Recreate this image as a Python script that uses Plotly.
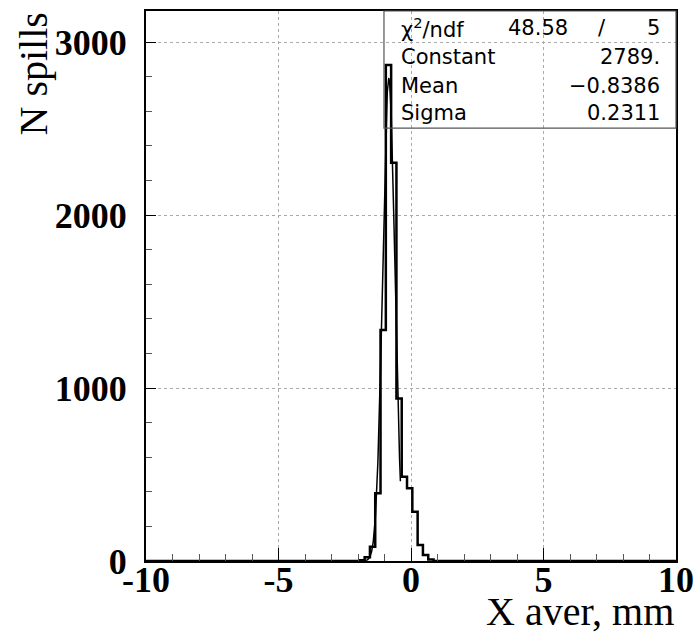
import plotly.graph_objects as go
import numpy as np

# ---- data ----
bin_edges = [-1.95, -1.75, -1.55, -1.35, -1.15, -0.95, -0.75, -0.55, -0.35,
             -0.15, 0.05, 0.25, 0.45, 0.65, 0.85]
counts = [5, 22, 83, 392, 1335, 2868, 2302, 940, 487, 420, 285, 92, 35, 8]

fit_constant = 2789.0
fit_mean = -0.8386
fit_sigma = 0.2311
fit_range = [-1.8, -0.4]

stat_names = ["Constant", "Mean", "Sigma"]
stat_values = ["2789.", "\u22120.8386", "0.2311"]
chi2_text = "48.58"
ndf_text = "5"

x_ticks = [-10, -5, 0, 5, 10]
x_tick_labels = ["-10", "-5", "0", "5", "10"]
y_ticks = [0, 1000, 2000, 3000]
y_tick_labels = ["0", "1000", "2000", "3000"]

x_title = "X aver, mm"
y_title = "N spills"

# ---- histogram outline ----
hx = [-10] + bin_edges + [10]
hy = [0] + counts + [0, 0]

# ---- gaussian fit curve (from the fit parameters, over the fit range) ----
gx = np.linspace(fit_range[0], fit_range[1], 300)
gy = fit_constant * np.exp(-0.5 * ((gx - fit_mean) / fit_sigma) ** 2)

fig = go.Figure()
fig.add_trace(go.Scatter(x=hx, y=hy, mode="lines", line_shape="hv",
                         line=dict(color="black", width=2.5),
                         hoverinfo="skip", showlegend=False))
fig.add_trace(go.Scatter(x=gx, y=gy, mode="lines",
                         line=dict(color="black", width=1.5),
                         hoverinfo="skip", showlegend=False))

tickfont = dict(family="Liberation Serif", size=36, color="black", weight="bold")

fig.update_xaxes(range=[-10, 10], tickmode="array", tickvals=x_ticks,
                 ticktext=x_tick_labels, ticks="inside", ticklen=13,
                 tickwidth=1, tickcolor="black",
                 minor=dict(dtick=1, ticks="inside", ticklen=7, tickcolor="#555",
                            showgrid=False),
                 showgrid=True, gridcolor="#aaaaaa", griddash="dot", gridwidth=1,
                 showline=True, linecolor="black", linewidth=2, mirror=True,
                 zeroline=False, tickfont=tickfont, ticklabelstandoff=-14,
                 automargin=False)
fig.update_yaxes(range=[0, 3180], tickmode="array", tickvals=y_ticks,
                 ticktext=y_tick_labels, ticks="inside", ticklen=10,
                 tickwidth=1, tickcolor="black",
                 minor=dict(dtick=200, ticks="inside", ticklen=6, tickcolor="#555",
                            showgrid=False),
                 showgrid=True, gridcolor="#aaaaaa", griddash="dot", gridwidth=1,
                 showline=True, linecolor="black", linewidth=2, mirror=True,
                 zeroline=False, tickfont=tickfont, ticklabelstandoff=10,
                 automargin=False)

# stats box
box_x0 = 0.449
box_y0 = 0.787
fig.add_shape(type="rect", xref="paper", yref="paper", x0=box_x0, x1=1.0,
              y0=box_y0, y1=1.0, line=dict(color="#555", width=1.2),
              fillcolor="rgba(0,0,0,0)", layer="above")

sfont = dict(family="DejaVu Sans", size=21, color="black")
row_y = [0.969, 0.916, 0.864, 0.8145]
lx = 0.4774
rx = 0.9736
fig.add_annotation(xref="paper", yref="paper", x=lx, y=row_y[0],
                   text="\u03c7<sup>2</sup>/ndf", showarrow=False,
                   xanchor="left", yanchor="middle", font=sfont)
fig.add_annotation(xref="paper", yref="paper", x=0.80, y=row_y[0],
                   text=chi2_text, showarrow=False,
                   xanchor="right", yanchor="middle", font=sfont)
fig.add_annotation(xref="paper", yref="paper", x=0.8604, y=row_y[0],
                   text="/", showarrow=False,
                   xanchor="center", yanchor="middle", font=sfont)
fig.add_annotation(xref="paper", yref="paper", x=rx, y=row_y[0],
                   text=ndf_text, showarrow=False,
                   xanchor="right", yanchor="middle", font=sfont)
for name, val, yy in zip(stat_names, stat_values, row_y[1:]):
    fig.add_annotation(xref="paper", yref="paper", x=lx, y=yy, text=name,
                       showarrow=False, xanchor="left", yanchor="middle",
                       font=sfont)
    fig.add_annotation(xref="paper", yref="paper", x=rx, y=yy, text=val,
                       showarrow=False, xanchor="right", yanchor="middle",
                       font=sfont)

# axis titles (ROOT style, right/top aligned)
tfont = dict(family="Liberation Serif", size=40, color="black")
fig.add_annotation(xref="paper", yref="paper", x=1.0, y=-0.0927, text=x_title,
                   showarrow=False, xanchor="right", yanchor="middle", font=tfont)
fig.add_annotation(xref="paper", yref="paper", x=-0.2132, y=1.0, text=y_title,
                   textangle=-90, showarrow=False, xanchor="center",
                   yanchor="top", font=tfont)

fig.update_layout(width=699, height=638,
                  margin=dict(l=146, r=23, t=11, b=77, autoexpand=False),
                  paper_bgcolor="white", plot_bgcolor="white",
                  showlegend=False)

fig.write_html("out.html", config={"displayModeBar": False},
               post_script="document.body.style.margin='0';"
                           "document.body.style.overflow='hidden';")
